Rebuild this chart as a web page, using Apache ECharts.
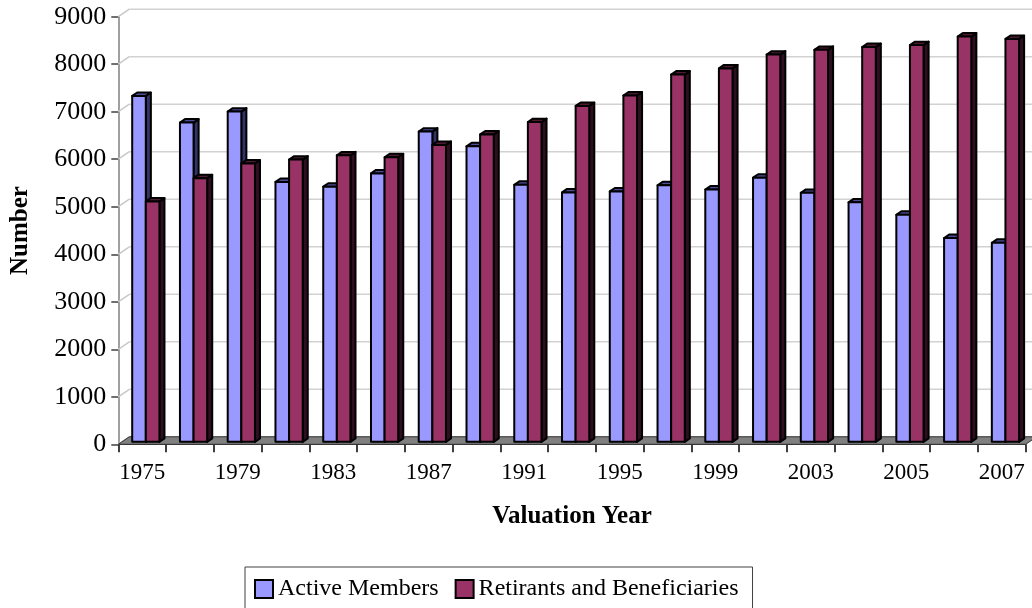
<!DOCTYPE html>
<html><head><meta charset="utf-8">
<script src="https://cdn.jsdelivr.net/npm/echarts@6/dist/echarts.min.js"></script>
<style>html,body{margin:0;padding:0;background:#fff}#c{width:1032px;height:608px}</style>
</head><body><div id="c"></div>
<script>
// ---- data ----
const years = ['1975','1977','1979','1981','1983','1985','1987','1989','1991','1993','1995','1997','1999','2001','2003','2004','2005','2006','2007'];
const activeMembers = [7280,6720,6950,5470,5370,5650,6530,6220,5410,5250,5270,5400,5310,5560,5240,5040,4780,4290,4190];
const retirants = [5060,5550,5860,5940,6030,5990,6250,6470,6730,7070,7290,7730,7860,8150,8250,8310,8350,8530,8480];
const yTicks = [0,1000,2000,3000,4000,5000,6000,7000,8000,9000];
const seriesNames = ['Active Members','Retirants and Beneficiaries'];

// ---- style ----
const FONT = '"Liberation Serif", "Times New Roman", serif';
const DX = 11, DY = 7.5;      // depth of the floor / walls in px
const FF = 0.33;              // bar front plane position (fraction of depth)
const BD = 0.46;              // bar depth (fraction of depth)
const BAR_W = 0.285;          // bar width (fraction of category band)
const COLORS = [
  {front:'#9999FF', top:'#4D4D99', side:'#333366'},
  {front:'#993366', top:'#4D1A33', side:'#2E0F1F'}
];

function wallItem(params, api) {
  const cs = params.coordSys;
  const y = api.coord([0, api.value(1)])[1];
  const x0 = cs.x, x1 = cs.x + cs.width;
  return {type:'group', children:[
    {type:'line', shape:{x1:x0, y1:y, x2:x0+DX, y2:y-DY}, style:{stroke:'#c8c8c8', lineWidth:1.5}},
    {type:'line', shape:{x1:x0+DX, y1:y-DY, x2:x1+DX+20, y2:y-DY}, style:{stroke:'#d2d2d2', lineWidth:1.5}}
  ]};
}

function floorItem(params, api) {
  const cs = params.coordSys;
  const y = api.coord([0, 0])[1];
  const x0 = cs.x, x1 = cs.x + cs.width;
  return {type:'polygon', shape:{points:[[x0,y],[x1,y],[x1+DX,y-DY],[x0+DX,y-DY]]},
    style:{fill:'#808080', stroke:'#333', lineWidth:1}};
}

function barRenderer(k) {
  const c = COLORS[k];
  return function(params, api) {
    const i = api.value(0), v = api.value(1);
    const base = api.coord([i, 0]);
    const topP = api.coord([i, v]);
    const band = api.size([1, 0])[0];
    const w = band * BAR_W;
    const fx = DX * FF, fy = DY * FF;
    const bx = DX * BD, by = DY * BD;
    const x0 = base[0] + (k === 0 ? -w : 0) + fx;
    const x1 = x0 + w;
    const yb = base[1] - fy, yt = topP[1] - fy;
    const st = {stroke:'#000', lineWidth:2, lineJoin:'round'};
    return {type:'group', children:[
      {type:'polygon', shape:{points:[[x1,yt],[x1+bx,yt-by],[x1+bx,yb-by],[x1,yb]]}, style:Object.assign({fill:c.side}, st)},
      {type:'polygon', shape:{points:[[x0,yt],[x1,yt],[x1+bx,yt-by],[x0+bx,yt-by]]}, style:Object.assign({fill:c.top}, st)},
      {type:'rect', shape:{x:x0, y:yt, width:w, height:yb-yt}, style:Object.assign({fill:c.front}, st)}
    ]};
  };
}

const chart = echarts.init(document.getElementById('c'), null, {renderer:'canvas'});
chart.setOption({
  animation:false,
  backgroundColor:'#fff',
  textStyle:{fontFamily:FONT},
  grid:{left:118.3, right:6.3, top:16.7, bottom:163.7, containLabel:false},
  legend:{
    left:245, top:567, padding:[9,14,20,9], itemGap:16, itemWidth:18, itemHeight:18,
    borderColor:'#404040', borderWidth:1, icon:'rect',
    textStyle:{fontFamily:FONT, fontSize:24, color:'#000', lineHeight:26},
    data:[
      {name:seriesNames[0], itemStyle:{color:COLORS[0].front, borderColor:'#000', borderWidth:2}},
      {name:seriesNames[1], itemStyle:{color:COLORS[1].front, borderColor:'#000', borderWidth:2}}
    ]
  },
  xAxis:{
    type:'category', data:years, boundaryGap:true,
    name:'Valuation Year', nameLocation:'middle', nameGap:60,
    nameTextStyle:{fontFamily:FONT, fontSize:25, fontWeight:'bold', color:'#000'},
    axisLine:{show:true, lineStyle:{color:'#333', width:1}},
    axisTick:{show:true, interval:0, length:8, lineStyle:{color:'#000', width:1.5}},
    axisLabel:{interval:1, margin:17, fontFamily:FONT, fontSize:23, color:'#000'},
    splitLine:{show:false}
  },
  yAxis:{
    type:'value', min:0, max:9000, interval:1000,
    name:'Number', nameLocation:'middle', nameGap:85, nameRotate:90,
    nameTextStyle:{fontFamily:FONT, fontSize:25, fontWeight:'bold', color:'#000'},
    axisLine:{show:true, lineStyle:{color:'#808080', width:1.5}},
    axisTick:{show:true, length:7, lineStyle:{color:'#404040', width:1.5}},
    axisLabel:{margin:12, fontFamily:FONT, fontSize:26, color:'#000', formatter:function(v){return String(v);}},
    splitLine:{show:false}
  },
  series:[
    {type:'custom', name:'walls', silent:true, z:1, renderItem:wallItem, data:yTicks.map(v=>[0,v])},
    {type:'custom', name:'floor', silent:true, z:2, renderItem:floorItem, data:[[0,0]]},
    {type:'custom', name:seriesNames[0], z:3, renderItem:barRenderer(0), itemStyle:{color:COLORS[0].front},
      data:activeMembers.map((v,i)=>[i,v])},
    {type:'custom', name:seriesNames[1], z:3, renderItem:barRenderer(1), itemStyle:{color:COLORS[1].front},
      data:retirants.map((v,i)=>[i,v])}
  ]
});
</script></body></html>
